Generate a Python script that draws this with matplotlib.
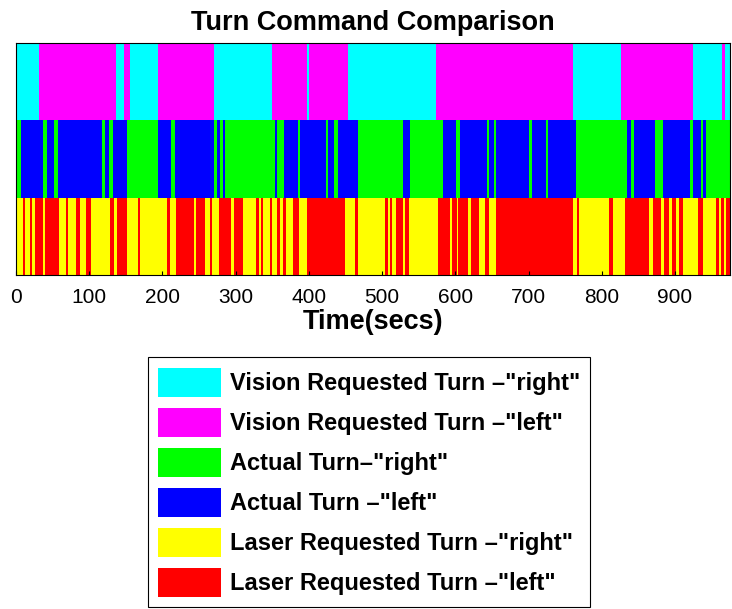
import matplotlib
matplotlib.use("Agg")
import matplotlib.pyplot as plt
from matplotlib.patches import Patch

# ---- data: transition times (secs); state alternates starting with first_state
vision_edges = [0, 31, 137, 147, 155, 194, 270, 349, 397, 400, 453, 574, 760,
                826, 925, 964, 968, 975]
vision_first = "right"

actual_edges = [0, 7, 37, 42, 52, 57, 118, 121, 127, 133, 151, 194, 212, 217,
                270, 274, 279, 282, 286, 353, 357, 366, 385, 388, 424, 426, 434,
                440, 467, 528, 538, 583, 601, 606, 643, 646, 653, 656, 701, 705,
                724, 726, 765, 835, 840, 844, 872, 883, 921, 924, 936, 938, 942,
                975]
actual_first = "right"

laser_edges = [0, 10, 12.7, 19, 22, 26.4, 36.4, 40, 59, 68, 71, 82, 87, 96, 103,
               128, 134, 138, 151, 167, 169, 206, 210, 219, 243, 246, 258, 265,
               268, 277, 294, 297, 310, 328, 332, 334, 337, 346.5, 349, 356, 360,
               365, 369, 378, 387, 397, 449, 462.5, 467, 503.4, 508, 511, 514,
               519, 528.4, 530.7, 536.6, 576.2, 592, 595, 602, 604, 617, 622,
               632, 640, 646, 656, 760, 766, 769, 810, 815, 831, 865, 869.5, 881,
               885.4, 892, 896, 901, 906, 911.4, 931, 938, 956, 959.5, 963, 967,
               969.5, 975]
laser_first = "right"

xticks = [0, 100, 200, 300, 400, 500, 600, 700, 800, 900]

labels = ['Vision Requested Turn \u2013"right"', 'Vision Requested Turn \u2013"left"',
          'Actual Turn\u2013"right"', 'Actual Turn \u2013"left"',
          'Laser Requested Turn \u2013"right"', 'Laser Requested Turn \u2013"left"']
colors = ["#00FFFF", "#FF00FF", "#00FF00", "#0000FF", "#FFFF00", "#FF0000"]

plt.rcParams["font.family"] = ["Liberation Sans", "DejaVu Sans"]

fig = plt.figure(figsize=(7.32, 6.09), dpi=100)
ax = fig.add_axes([0.0219, 0.5484, 0.9753, 0.3810])

bands = [(vision_edges, vision_first, 2, colors[0], colors[1]),
         (actual_edges, actual_first, 1, colors[2], colors[3]),
         (laser_edges, laser_first, 0, colors[4], colors[5])]

for edges, first, ybase, c_right, c_left in bands:
    right_segs, left_segs = [], []
    state = first
    for a, b in zip(edges[:-1], edges[1:]):
        (right_segs if state == "right" else left_segs).append((a, b - a))
        state = "left" if state == "right" else "right"
    ax.broken_barh(right_segs, (ybase, 1), facecolors=c_right, linewidth=0)
    ax.broken_barh(left_segs, (ybase, 1), facecolors=c_left, linewidth=0)

ax.set_xlim(0, 975)
ax.set_ylim(0, 3)
ax.set_yticks([])
ax.set_xticks(xticks)
ax.tick_params(axis="x", direction="in", length=3, labelsize=15, pad=9)
for s in ax.spines.values():
    s.set_linewidth(0.8)
ax.set_title("Turn Command Comparison", fontsize=19.5, fontweight="bold", pad=9)
ax.set_xlabel("Time(secs)", fontsize=19.5, fontweight="bold", labelpad=2)

handles = [Patch(facecolor=c, edgecolor="none") for c in colors]
leg = fig.legend(handles, labels, loc="upper center",
                 bbox_to_anchor=(0.5041, 0.4138),
                 prop={"size": 17, "weight": "bold"},
                 handlelength=2.67, handleheight=1.51, labelspacing=0.47,
                 handletextpad=0.35, borderpad=0.45, borderaxespad=0,
                 fancybox=False, framealpha=1)
leg.get_frame().set_edgecolor("black")
leg.get_frame().set_linewidth(0.8)

fig.savefig("out.png", dpi=100)
